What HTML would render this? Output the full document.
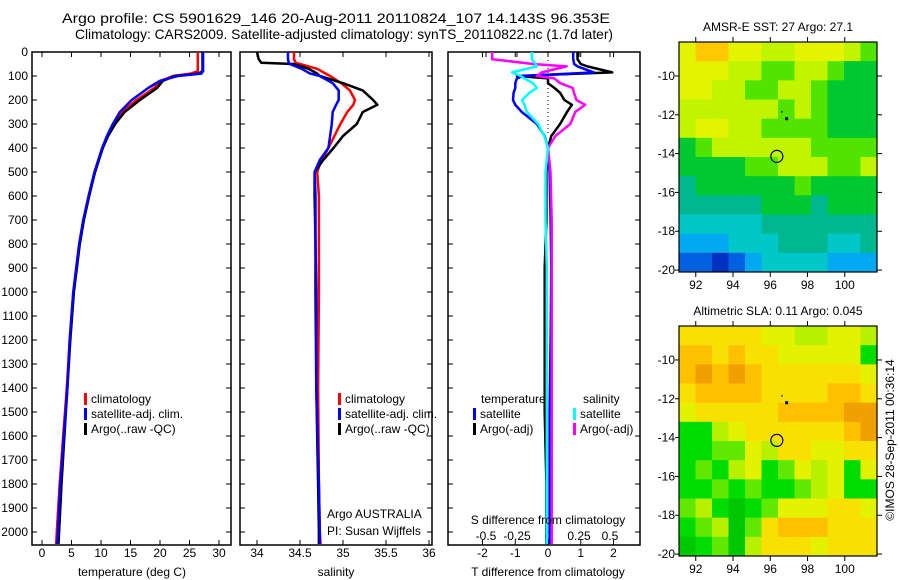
<!DOCTYPE html>
<html><head><meta charset="utf-8"><style>
html,body{margin:0;padding:0;background:#fff;}
svg{display:block;font-family:"Liberation Sans",sans-serif;}
text{font-size:12px;fill:#000;}
</style></head><body>
<svg id="fig" width="900" height="580" viewBox="0 0 900 580" xmlns="http://www.w3.org/2000/svg">
<text x="336" y="23" text-anchor="middle" textLength="548" lengthAdjust="spacingAndGlyphs" style="font-size:14px">Argo profile: CS 5901629_146 20-Aug-2011 20110824_107 14.143S 96.353E</text>
<text x="344" y="39" text-anchor="middle" textLength="538" lengthAdjust="spacingAndGlyphs" style="font-size:14px">Climatology: CARS2009. Satellite-adjusted climatology: synTS_20110822.nc (1.7d later)</text>
<g id="g"></g>
</svg>
<script>
// ---------- data ----------
const depthTicks=[0,100,200,300,400,500,600,700,800,900,1000,1100,1200,1300,1400,1500,1600,1700,1800,1900,2000];
const tempTicks=[0,5,10,15,20,25,30];
const salTicks=[34,34.5,35,35.5,36];
const tdiffTicks=[-2,-1,0,1,2];
const sdiffTicks=[-0.5,-0.25,0,0.25,0.5];
const lonTicks=[92,94,96,98,100];
const latTicks=[-10,-12,-14,-16,-18,-20];

const tDepth=[0,80,90,100,120,150,200,250,300,350,400,500,600,700,800,1000,1200,1400,1600,1800,2000,2050];
const tempArgo=[27.2,27.2,26.5,22.5,20.5,19.5,16.6,14,12.4,11.2,10.3,9.0,8.0,7.1,6.4,5.4,4.8,4.3,3.8,3.3,2.9,2.8];
const tempClim=[26.4,26.4,25.2,22.2,20.2,19.0,16.0,13.6,12.2,11.1,10.2,8.9,7.9,7.0,6.3,5.3,4.7,4.2,3.6,3.0,2.5,2.4];
const tempSat=[27.3,27.3,27.0,23.0,20.0,18.0,15.2,13.2,12.0,11.0,10.2,8.9,7.9,7.0,6.3,5.3,4.7,4.3,3.7,3.1,2.7,2.6];

const sDepth=[0,30,45,50,60,70,90,100,130,160,200,220,250,300,350,400,450,500,600,800,1000,1400,1800,2000,2050];
const salArgo=[34.0,34.02,34.05,34.42,34.52,34.6,34.7,34.73,35.0,35.23,35.35,35.4,35.23,35.16,35.0,34.89,34.77,34.67,34.67,34.68,34.68,34.69,34.71,34.72,34.72];
const salClim=[34.43,34.43,34.45,34.5,34.6,34.7,34.8,34.85,34.98,35.08,35.14,35.12,35.05,34.97,34.9,34.83,34.75,34.7,34.72,34.72,34.72,34.71,34.72,34.73,34.74];
const salSat=[34.36,34.36,34.37,34.38,34.45,34.52,34.62,34.73,34.88,34.95,34.95,34.92,34.88,34.87,34.85,34.83,34.73,34.67,34.68,34.68,34.69,34.69,34.72,34.73,34.73];

const dDepth=[0,30,50,60,85,100,110,130,150,170,200,220,250,300,350,400,500,700,900,1200,1500,1800,2050];
const tdiffSat=[0.77,0.77,0.8,0.9,1.4,-0.76,-0.95,-1.0,-1.0,-1.05,-1.07,-1.0,-0.8,-0.34,-0.1,0,0.05,0.08,0.1,0.08,0.05,0.05,0.05];
const tdiffArgo=[0.9,0.9,1.0,1.2,1.96,-0.95,0,0,0.2,0.37,0.5,0.73,0.58,0.37,0.1,0,-0.05,-0.05,-0.1,-0.1,-0.1,-0.05,-0.05];
const sdiffSat=[-0.13,-0.13,-0.1,-0.09,-0.29,-0.22,-0.19,-0.12,-0.09,-0.15,-0.21,-0.19,-0.17,-0.08,-0.03,0,-0.02,-0.02,-0.01,-0.01,-0.01,-0.01,-0.01];
const sdiffArgo=[-0.45,-0.45,-0.12,0.15,-0.05,-0.09,0.05,0.1,0.2,0.21,0.23,0.3,0.22,0.18,0.06,0,0.02,0.03,0.03,0.03,0.03,0.03,0.03];

const sstGrid=[
[8,9,9,8,8,7,7,8,8,8,7,6],[8,8,8,7,7,6,6,7,7,6,5,5],[8,8,7,7,6,6,7,7,6,5,5,5],
[7,7,7,7,7,7,6,7,6,5,5,5],[7,8,8,7,7,6,6,6,6,5,5,5],[5,6,7,7,7,7,7,7,6,6,6,6],
[5,5,5,5,6,6,7,7,7,6,6,7],[4,5,5,5,5,5,5,6,5,5,5,5],[4,4,4,4,4,5,5,5,4,5,5,5],
[3,3,3,3,3,4,4,4,4,4,4,4],[2,2,2,3,3,3,4,4,4,3,3,4],[1,1,0,1,2,3,3,3,3,2,2,2]];
const slaGrid=[
[7,7,7,7,7,6,6,5,5,6,6,5],[8,8,7,8,7,7,6,6,6,6,6,3],[8,9,8,9,8,7,7,7,7,7,7,6],
[7,8,8,8,8,7,7,7,7,8,8,7],[6,7,7,7,7,7,8,8,8,8,9,9],[3,3,5,6,7,7,7,7,7,7,8,9],
[3,3,4,4,6,5,7,7,6,6,7,7],[3,4,3,5,6,3,4,6,5,6,3,6],[3,3,4,3,4,3,3,4,5,6,3,3],
[4,5,3,2,3,4,6,6,6,7,7,6],[3,4,5,2,4,7,8,8,8,7,7,7],[2,3,4,2,5,7,7,7,6,7,7,7]];
const sstColors=["#0030c0","#0060e0","#00a8f0","#00c8c8","#00b890","#00c830","#50e400","#c0f400","#e4f400","#ffc800"];
const slaColors=["#00b000","#00c000","#00c800","#00dc00","#60e800","#b8f000","#e4f200","#f8e000","#ffc000","#f0a000"];
const argoLon=96.353, argoLat=-14.143;

// ---------- helpers ----------
const NS="http://www.w3.org/2000/svg";
const G=document.getElementById('g');
function mk(tag,attrs,parent){const e=document.createElementNS(NS,tag);for(const k in attrs)e.setAttribute(k,attrs[k]);(parent||G).appendChild(e);return e;}
function txt(x,y,s,anchor,parent){const t=mk('text',{x:x,y:y,'text-anchor':anchor||'start'},parent);t.textContent=s;return t;}
const yD=d=>52+d*0.24;
const PT=52,PB=545;

function panel(x0,x1,name){
  const r=mk('rect',{x:x0,y:PT,width:x1-x0,height:PB-PT,fill:'none',stroke:'#000','stroke-width':1.5});
  
  
  depthTicks.forEach(d=>{mk('line',{x1:x0,x2:x0+5,y1:yD(d),y2:yD(d),stroke:'#000'});mk('line',{x1:x1-5,x2:x1,y1:yD(d),y2:yD(d),stroke:'#000'});});
}
function line(xs,ds,xf,color,name){
  const p=xs.map((v,i)=>xf(v).toFixed(1)+','+yD(ds[i]).toFixed(1)).join(' ');
  const l=mk('polyline',{points:p,fill:'none',stroke:color,'stroke-width':2.5,'stroke-linejoin':'round'});
  
  
}
function xticks(ticks,xf,ytop,ybot,labY,fmt){
  ticks.forEach(v=>{const x=xf(v);mk('line',{x1:x,x2:x,y1:ybot,y2:ybot-5,stroke:'#000'});mk('line',{x1:x,x2:x,y1:ytop,y2:ytop+5,stroke:'#000'});
    const t=txt(x,labY,fmt?fmt(v):String(v),'middle');});
}
function legend(x,y,items){
  items.forEach((it,i)=>{mk('rect',{x:x,y:y+i*15-10,width:3,height:12,fill:it[0]});const t=txt(x+7,y+i*15,it[1]);});
}

// ---------- panel 1: temperature ----------
const xTemp=v=>42+v*5.9;
panel(32,231,'temperature-panel');
depthTicks.forEach(d=>{const t=txt(28,yD(d)+4,String(d),'end');});
xticks(tempTicks,xTemp,PT,PB,557);
line(tempClim,tDepth,xTemp,'#ff0000','temp-climatology-line');
line(tempArgo,tDepth,xTemp,'#000000','temp-argo-line');
line(tempSat,tDepth,xTemp,'#0000ff','temp-satellite-line');
legend(84,403,[['#f00','climatology'],['#00f','satellite-adj. clim.'],['#000','Argo(..raw -QC)']]);
let t1=txt(132,576,'temperature (deg C)','middle');

// ---------- panel 2: salinity ----------
const xSal=v=>257+(v-34)*86;
panel(240,432,'salinity-panel');
xticks(salTicks,xSal,PT,PB,557);
line(salClim,sDepth,xSal,'#ff0000','sal-climatology-line');
line(salArgo,sDepth,xSal,'#000000','sal-argo-line');
line(salSat,sDepth,xSal,'#0000ff','sal-satellite-line');
legend(338,403,[['#f00','climatology'],['#00f','satellite-adj. clim.'],['#000','Argo(..raw -QC)']]);
let t2=txt(336,576,'salinity','middle');
let t3=txt(327,518,'Argo AUSTRALIA');
let t4=txt(327,535,'PI: Susan Wijffels');

// ---------- panel 3: differences ----------
const xT=v=>548+v*32.75, xS=v=>548+v*124;
panel(448,640,'difference-panel');
xticks(tdiffTicks,xT,PT,PB,557);
sdiffTicks.forEach(v=>{const x=xS(v);mk('line',{x1:x,x2:x,y1:PT,y2:PT+5,stroke:'#000'});const t=txt(x,540,String(v),'middle');});
mk('line',{x1:548,x2:548,y1:PT,y2:135,stroke:'#000','stroke-dasharray':'1,3'});
line(tdiffArgo,dDepth,xT,'#000000','tdiff-argo-line');
line(tdiffSat,dDepth,xT,'#0000ff','tdiff-satellite-line');
line(sdiffArgo,dDepth,xS,'#ff00ff','sdiff-argo-line');
line(sdiffSat,dDepth,xS,'#00ffff','sdiff-satellite-line');
let t5=txt(481,403,'temperature');
let t6=txt(583,403,'salinity');
legend(473,418,[['#00f','satellite'],['#000','Argo(-adj)']]);
legend(573,418,[['#0ff','satellite'],['#f0f','Argo(-adj)']]);
let t7=txt(548,524,'S difference from climatology','middle');
let t8=txt(548,576,'T difference from climatology','middle');

// ---------- maps ----------
function map(top,bottom,latTop,latBot,grid,colors,title,name){
  const L=679,R=877,lon0=91.1,lon1=101.73;
  const xL=v=>L+(v-lon0)/(lon1-lon0)*(R-L);
  const yL=v=>top+(latTop-v)/(latTop-latBot)*(bottom-top);
  const g=mk('g',{});
  
  
  const nr=grid.length,nc=grid[0].length;
  const cw=(lon1-lon0)/nc, ch=(latTop-latBot)/nr;
  grid.forEach((row,i)=>row.forEach((v,j)=>{
    const xa=xL(lon0+j*cw),xb=xL(lon0+(j+1)*cw),ya=yL(latTop-i*ch),yb=yL(latTop-(i+1)*ch);
    const c=mk('rect',{x:xa,y:ya,width:xb-xa+0.5,height:yb-ya+0.5,fill:colors[v]},g);
    
    
  }));
  mk('rect',{x:L,y:top,width:R-L,height:bottom-top,fill:'none',stroke:'#000','stroke-width':1.2},g);
  lonTicks.forEach(v=>{const x=xL(v);mk('line',{x1:x,x2:x,y1:top,y2:top-5,stroke:'#000'},g);mk('line',{x1:x,x2:x,y1:bottom,y2:bottom+5,stroke:'#000'},g);
    const t=txt(x,bottom+17,String(v),'middle',g);});
  latTicks.forEach(v=>{const y=yL(v);mk('line',{x1:R,x2:R+5,y1:y,y2:y,stroke:'#000'},g);mk('line',{x1:L,x2:L-4,y1:y,y2:y,stroke:'#000'},g);
    const t=txt(L-4,y+4,String(v),'end',g);});
  const c=mk('circle',{cx:xL(argoLon),cy:yL(argoLat),r:6,fill:'none',stroke:'#000','stroke-width':1.2},g);
  
  
  mk('rect',{x:xL(96.88)-1.5,y:yL(-12.2)-1.5,width:3,height:3,fill:'#000'},g);
  mk('rect',{x:xL(96.6),y:yL(-11.85)-1,width:1,height:2,fill:'#000'},g);
  const t=txt((L+R)/2,top-11,title,'middle',g);
}
map(42,272,-8.25,-20.1,sstGrid,sstColors,'AMSR-E SST: 27 Argo: 27.1','sst-map');
map(326,556,-8.25,-20.1,slaGrid,slaColors,'Altimetric SLA: 0.11 Argo: 0.045','sla-map');
const imos=txt(0,0,'©IMOS 28-Sep-2011 00:36:14','middle');
imos.setAttribute('transform','translate(894,440) rotate(-90)');


</script>
</body></html>
